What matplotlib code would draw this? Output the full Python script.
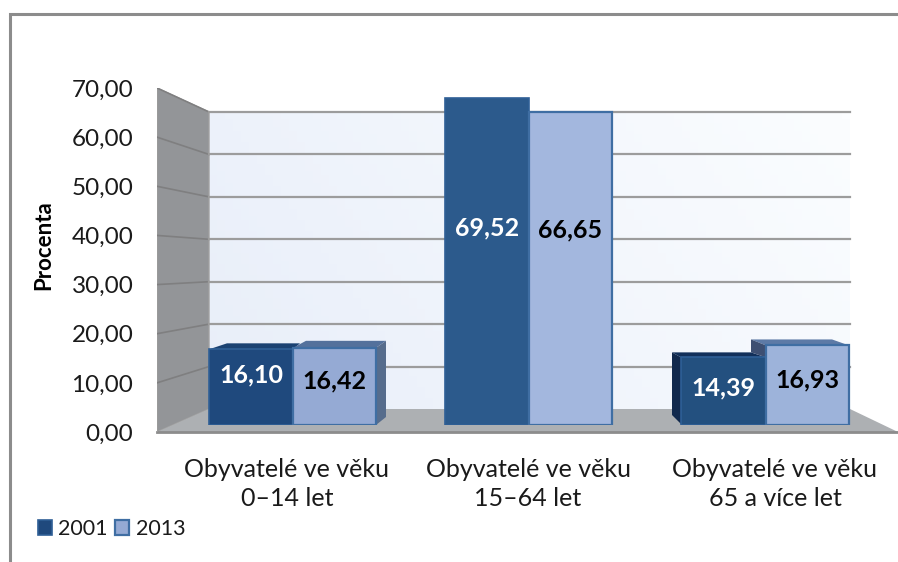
import numpy as np
import matplotlib
matplotlib.use('Agg')
import matplotlib.pyplot as plt
from matplotlib.patches import Polygon

plt.rcParams['font.family'] = ['Lato', 'DejaVu Sans']

years = ['2001', '2013']
categories = ['Obyvatelé ve věku\n0–14 let', 'Obyvatelé ve věku\n15–64 let', 'Obyvatelé ve věku\n65 a více let']
values_2001 = [16.10, 69.52, 14.39]
values_2013 = [16.42, 66.65, 16.93]
yticks = [0, 10, 20, 30, 40, 50, 60, 70]

W, H = 898, 562
# pixel layout
FRONT_X, BACK_X, BACK_R, FLOOR_R = 157, 209, 850, 898
FRONT_0, FRONT_70 = 432, 88
BACK_0, BACK_70 = 409, 112
BAR_0, BAR_SCALE = 425, 4.7
left_2001 = [209, 445, 681]
left_2013 = [293, 529, 766]
right_2013 = [376, 612, 849]
label_x = [287, 528, 775]
DARK = ['#1f497d', '#2c5a8c', '#23507f']
LIGHT = ['#95aad4', '#a3b7de', '#9db3da']
# height of the value labels on the bars, in percent
label_h_2001 = [10.6, 42.0, 7.9]
label_h_2013 = [9.4, 41.5, 9.6]


def fig_axes(x0, x1, ytop, ybot):
    return fig.add_axes([x0 / W, 1 - ybot / H, (x1 - x0) / W, (ybot - ytop) / H])


def back_v(v):
    # wall value as seen on the back plane, in front plane units
    y = BACK_0 - v * (BACK_0 - BACK_70) / 70
    return (FRONT_0 - y) * 70 / (FRONT_0 - FRONT_70)


fig = plt.figure(figsize=(W / 100, H / 100), dpi=100)

# outer frame
frame = fig.add_axes([0, 0, 1, 1])
frame.set_xlim(0, W)
frame.set_ylim(H, 0)
frame.axis('off')
frame.plot([10, 10, W], [H, 14, 14], color='#8c8c8c', lw=2.2, solid_joinstyle='miter')

# wall, floor and grid
ax = fig_axes(FRONT_X, FLOOR_R, FRONT_70, FRONT_0)
ax.set_xlim(FRONT_X, FLOOR_R)
ax.set_ylim(0, 70)
ax.patch.set_alpha(0)
for s in ax.spines.values():
    s.set_visible(False)

gx, gy = np.meshgrid(np.linspace(0, 1, 80), np.linspace(0, 1, 80))
ax.imshow(gx * 0.75 + gy * 0.25, extent=(BACK_X, BACK_R, back_v(0), back_v(70)), origin='lower',
          aspect='auto', cmap=matplotlib.colors.LinearSegmentedColormap.from_list('w', ['#e8eef9', '#fbfdff']),
          zorder=1)
ax.set_xlim(FRONT_X, FLOOR_R)
ax.set_ylim(0, 70)

ax.add_patch(Polygon([(FRONT_X, 0), (FRONT_X, 70), (BACK_X, back_v(70)), (BACK_X, back_v(0))],
                     fc='#939598', ec='#a0a0a0', lw=1, zorder=2))
ax.add_patch(Polygon([(FRONT_X, 0), (BACK_X, back_v(0)), (BACK_R, back_v(0)), (FLOOR_R, 0)],
                     fc='#adb0b3', ec='none', zorder=2))
ax.plot([FRONT_X, FLOOR_R], [0, 0], color='#8c8c8c', lw=2, zorder=3, clip_on=False)
ax.plot([FRONT_X, FRONT_X], [0, 70], color='#9a9a9a', lw=1.5, zorder=3)
for v in yticks[1:]:
    ax.plot([FRONT_X, BACK_X], [v, back_v(v)], color='#7f7f80', lw=1.2, zorder=3)
    ax.plot([BACK_X, BACK_R], [back_v(v), back_v(v)], color='#9c9c9c', lw=1.6, zorder=3)

ax.set_xticks([])
ax.set_yticks(yticks)
ax.set_yticklabels([('%.2f' % v).replace('.', ',') for v in yticks], fontsize=17.5, color='#1a1a1a')
ax.tick_params(axis='y', length=0, pad=17)
ax.set_ylabel('Procenta', fontsize=16, fontweight='bold', color='black')
ax.yaxis.set_label_coords((54 - FRONT_X) / (FLOOR_R - FRONT_X), (FRONT_0 - 245) / (FRONT_0 - FRONT_70))

# bars
bx = fig_axes(0, W, BAR_0 - 70 * BAR_SCALE, BAR_0)
bx.set_xlim(0, W)
bx.set_ylim(0, 70)
bx.patch.set_alpha(0)
for s in bx.spines.values():
    s.set_visible(False)
bx.set_yticks([])

w1 = [b - a for a, b in zip(left_2001, left_2013)]
w2 = [b - a for a, b in zip(left_2013, right_2013)]
bars1 = bx.bar(left_2001, values_2001, w1, align='edge', color=DARK, edgecolor='#2f5f96', lw=1.2, zorder=4,
               label=years[0])
bars2 = bx.bar(left_2013, values_2013, w2, align='edge', color=LIGHT, edgecolor='#3f6ea3', lw=1.6, zorder=4,
               label=years[1])


def face(pts, color):
    # pts: (x in px, value, pixel shift upwards)
    xy = [(x, v + d / BAR_SCALE) for x, v, d in pts]
    bx.add_patch(Polygon(xy, fc=color, ec='none', zorder=3.5))


# first group seen from the left, third from the right
v, u = values_2001[0], values_2013[0]
face([(209, v, 0), (227, v, 6), (300, v, 6), (293, v, 0)], '#1b4272')
face([(293, u, 0), (306, u, 7), (386, u, 7), (376, u, 0)], '#54719c')
face([(376, 0, 0), (386, 0, 8), (386, u, 7), (376, u, 0)], '#566c8c')

v, u = values_2001[2], values_2013[2]
face([(681, v, 0), (672, v, 5), (751, v, 5), (766, v, 0)], '#12305a')
face([(681, 0, 1), (672, 0, 10), (672, v, 5), (681, v, 0)], '#11294d')
face([(766, u, 0), (751, u, 6), (832, u, 6), (849, u, 0)], '#5d7aa6')
face([(766, v, 0), (751, v, 5), (751, u, 6), (766, u, 0)], '#3d4f72')

for i in range(3):
    bx.text(left_2001[i] + w1[i] / 2, label_h_2001[i], ('%.2f' % values_2001[i]).replace('.', ','),
            color='white', fontsize=18, fontweight='bold', ha='center', va='center', zorder=6)
    bx.text(left_2013[i] + w2[i] / 2, label_h_2013[i], ('%.2f' % values_2013[i]).replace('.', ','),
            color='black', fontsize=18, fontweight='bold', ha='center', va='center', zorder=6)

bx.set_xticks(label_x)
bx.set_xticklabels(categories, fontsize=18, color='#1a1a1a', linespacing=1.28)
bx.tick_params(axis='x', length=0, pad=24)

fig.legend(handles=[bars1, bars2], labels=years, loc='lower left', bbox_to_anchor=(38 / W, 1 - 539 / H), ncol=2,
           frameon=False, fontsize=15.5, handlelength=0.65, handleheight=0.65, handletextpad=0.3, columnspacing=0.35,
           borderpad=0, borderaxespad=0, labelcolor='#1a1a1a')

fig.savefig('out.png', dpi=100)
